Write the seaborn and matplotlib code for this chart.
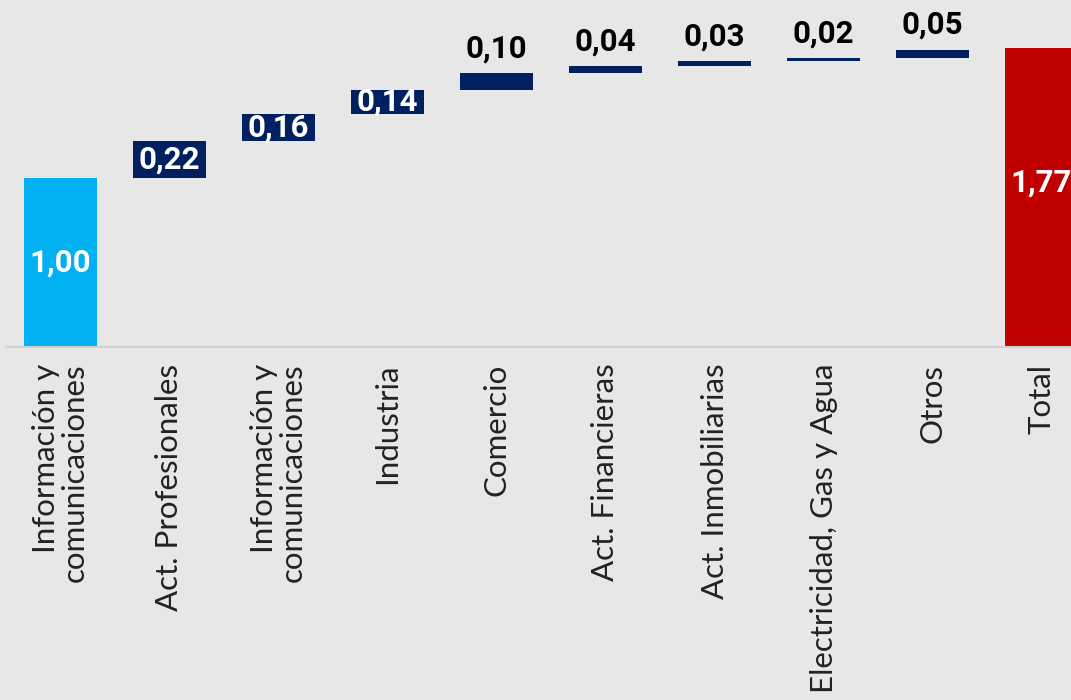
import pandas as pd
import matplotlib.pyplot as plt
import seaborn as sns

# Waterfall data: contribution by sector
categories = ["Información y\ncomunicaciones", "Act. Profesionales",
              "Información y\ncomunicaciones", "Industria", "Comercio",
              "Act. Financieras", "Act. Inmobiliarias",
              "Electricidad, Gas y Agua", "Otros", "Total"]
values = [1.00, 0.22, 0.16, 0.14, 0.10, 0.04, 0.03, 0.02, 0.05, 1.77]
labels = ["1,00", "0,22", "0,16", "0,14", "0,10", "0,04", "0,03", "0,02", "0,05", "1,77"]
kinds = ["start", "step", "step", "step", "step", "step", "step", "step", "step", "total"]

colors = {"start": "#00b0f0", "step": "#002060", "total": "#c00000"}
bg = "#e7e7e7"

# bottoms of the floating bars
bottoms = []
running = 0.0
for v, k in zip(values, kinds):
    if k == "step":
        bottoms.append(running)
        running += v
    else:
        bottoms.append(0.0)
        running = v if k == "start" else running

df = pd.DataFrame({"pos": range(len(values)), "value": values})

sns.set_style("white", {"axes.facecolor": bg, "figure.facecolor": bg})
plt.rcParams["font.family"] = ["Lato", "DejaVu Sans"]

fig = plt.figure(figsize=(10.71, 7), dpi=100)
ax = fig.add_axes([6 / 1071, 353 / 700, 1090 / 1071, 347 / 700])

sns.barplot(data=df, x="pos", y="value", hue="pos",
            palette=[colors[k] for k in kinds], legend=False,
            width=0.67, saturation=1, linewidth=0, ax=ax)

for patch, b in zip(ax.patches, bottoms):
    patch.set_y(b)

# value labels
for i, (v, b, lab) in enumerate(zip(values, bottoms, labels)):
    if i <= 3 or kinds[i] == "total":
        y = b + v / 2 if kinds[i] != "total" else v * 0.55
        ax.text(i, y, lab, ha="center", va="center", color="white",
                fontsize=22.5, fontweight="bold", family="Roboto")
    else:
        ax.annotate(lab, (i, b + v), xytext=(0, 7), textcoords="offset points",
                    ha="center", va="bottom", color="black",
                    fontsize=22.5, fontweight="bold", family="Roboto")

ax.set_xlim(-0.5, len(values) - 0.5)
ax.set_ylim(0, 347 / 169)
ax.set_xticks(range(len(categories)))
ax.set_xticklabels(categories, rotation=90, ha="center", va="top",
                   multialignment="right", fontsize=22.5,
                   color="#222222", linespacing=1.0)
ax.tick_params(axis="x", length=0, pad=12)
ax.set_yticks([])
ax.set_xlabel("")
ax.set_ylabel("")
for s in ["top", "left", "right"]:
    ax.spines[s].set_visible(False)
ax.spines["bottom"].set_color("#d0d0d0")
ax.spines["bottom"].set_linewidth(1.5)

fig.savefig("out.png", dpi=100, facecolor=bg)
